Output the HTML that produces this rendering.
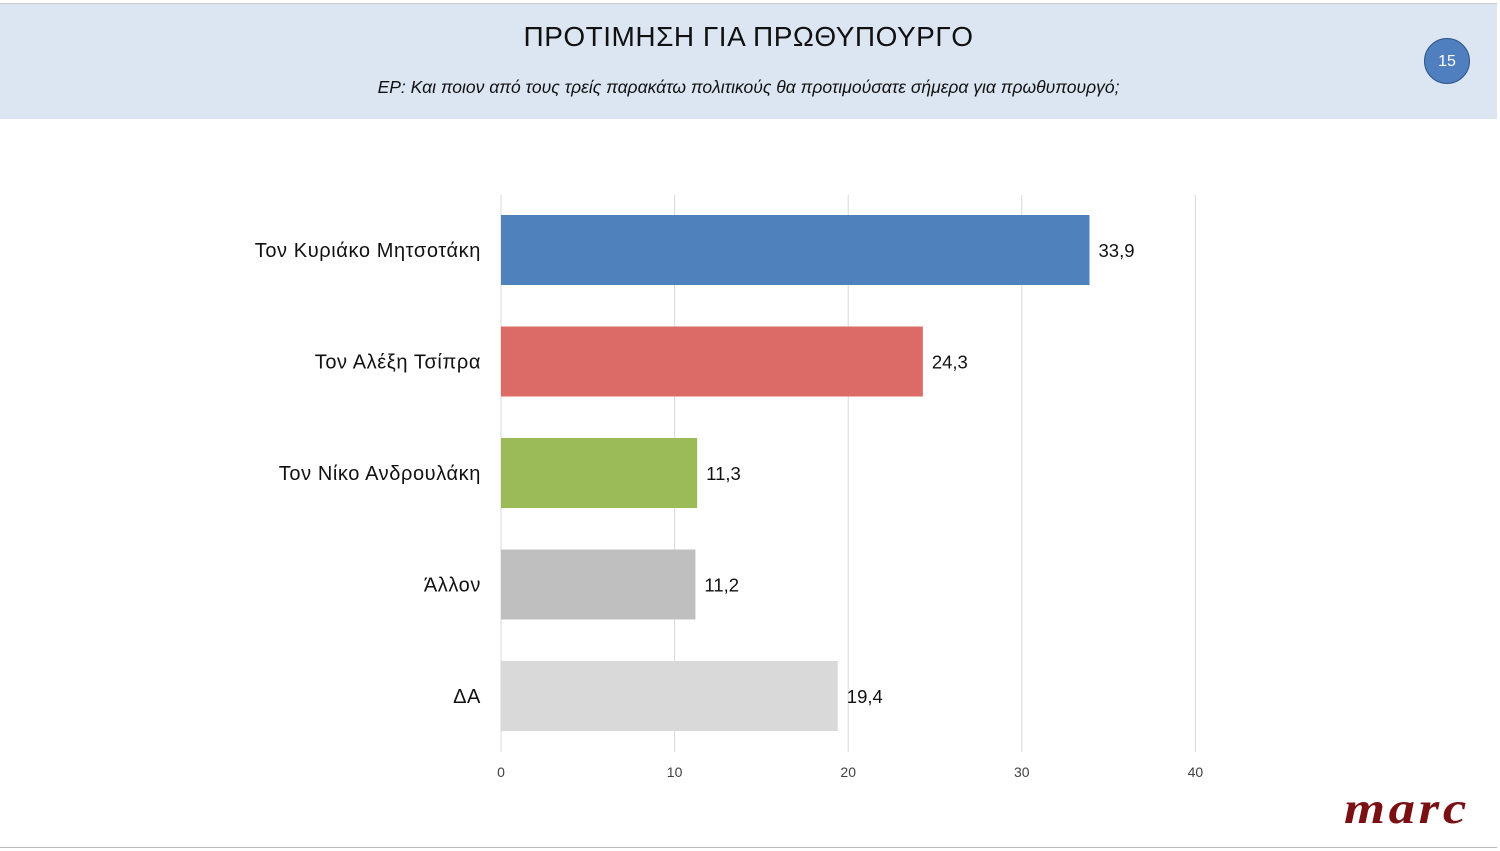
<!DOCTYPE html>
<html><head><meta charset="utf-8">
<style>
body{margin:0;width:1500px;height:851px;background:#fff;overflow:hidden;font-family:"Liberation Sans","DejaVu Sans",sans-serif;position:relative}
#hdr{position:absolute;left:0;top:3px;width:1497px;height:115px;background:#dce6f2;border-top:1px solid #c8ccd0}
#title{position:absolute;left:0;width:1497px;top:21px;text-align:center;font-size:28px;color:#111;letter-spacing:0.5px}
#sub{position:absolute;left:0;width:1497px;top:77px;text-align:center;font-size:17.5px;font-style:italic;color:#111}
#pg{position:absolute;left:1424px;top:38px;width:44px;height:44px;border-radius:50%;background:#4f7fbf;border:1px solid #2f5687;color:#fff;font-size:16px;line-height:46px;text-align:center}
#logo{position:absolute;left:1344px;top:783px;font-family:"Liberation Serif",serif;font-style:italic;font-weight:bold;font-size:44px;color:#7a1014;letter-spacing:3px;transform:scaleX(1.2);transform-origin:left top}
#bl{position:absolute;left:0;top:847px;width:1497px;height:1px;background:#bbb}
</style></head><body>
<div id="hdr"></div>
<div id="title">ΠΡΟΤΙΜΗΣΗ ΓΙΑ ΠΡΩΘΥΠΟΥΡΓΟ</div>
<div id="sub">ΕΡ: Και ποιον από τους τρείς παρακάτω πολιτικούς θα προτιμούσατε σήμερα για πρωθυπουργό;</div>
<div id="pg">15</div>
<div id="logo">marc</div>
<div id="bl"></div>
<svg id="chart" width="1500" height="851" style="position:absolute;left:0;top:0"></svg>
<script>
const categories=["Τον Κυριάκο Μητσοτάκη","Τον Αλέξη Τσίπρα","Τον Νίκο Ανδρουλάκη","Άλλον","ΔΑ"];
const values=[33.9,24.3,11.3,11.2,19.4];
const labels=["33,9","24,3","11,3","11,2","19,4"];
const colors=["#4f81bd","#dc6b68","#9bbb59","#bfbfbf","#d9d9d9"];
const ticks=[0,10,20,30,40];
const svg=document.getElementById('chart');
const NS='http://www.w3.org/2000/svg';
const x=v=>501+v*17.36;
const yc=i=>250+i*111.5;
function mk(t,a){const e=document.createElementNS(NS,t);for(const k in a)e.setAttribute(k,a[k]);svg.appendChild(e);return e;}
ticks.forEach(t=>{
 const g=mk('line',{x1:x(t),x2:x(t),y1:195,y2:752,stroke:'#d9d9d9','stroke-width':1});
 
 
 const l=mk('text',{x:x(t),y:777,'text-anchor':'middle','font-size':14,fill:'#404040','font-family':'Liberation Sans, sans-serif'});
 l.textContent=t;
 
 
});
categories.forEach((c,i)=>{
 const b=mk('rect',{x:x(0),y:yc(i)-35,width:x(values[i])-x(0),height:70,fill:colors[i]});
 
 
 const v=mk('text',{x:x(values[i])+9,y:yc(i)+7,'font-size':18.5,fill:'#111','font-family':'Liberation Sans, sans-serif'});
 v.textContent=labels[i];
 
 
 const cl=mk('text',{x:481,y:yc(i)+7,'text-anchor':'end','font-size':20,'letter-spacing':0.6,fill:'#111','font-family':'Liberation Sans, DejaVu Sans, sans-serif'});
 cl.textContent=c;
 
 
});
</script>
</body></html>
